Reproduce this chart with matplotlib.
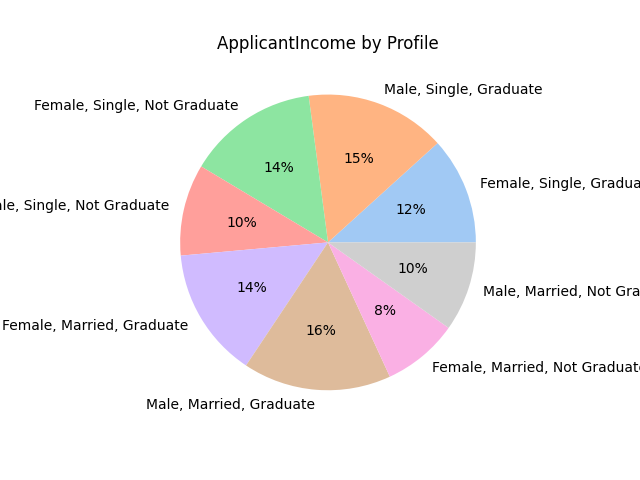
import matplotlib
matplotlib.use("Agg")
import matplotlib.pyplot as plt

profiles = ["Female, Single, Graduate", "Male, Single, Graduate",
            "Female, Single, Not Graduate", "Male, Single, Not Graduate",
            "Female, Married, Graduate", "Male, Married, Graduate",
            "Female, Married, Not Graduate", "Male, Married, Not Graduate"]
income = [11.7, 15.35, 14.3, 10.0, 14.2, 16.2, 8.3, 9.8]
colors = ['#a1c9f4', '#ffb482', '#8de5a1', '#ff9f9b',
          '#d0bbff', '#debb9b', '#fab0e4', '#cfcfcf']

fig, ax = plt.subplots(figsize=(6.4, 4.8), dpi=100)
ax.pie(income, labels=profiles, colors=colors, autopct='%1.0f%%')
ax.set_title("ApplicantIncome by Profile")
fig.savefig("out.png")
